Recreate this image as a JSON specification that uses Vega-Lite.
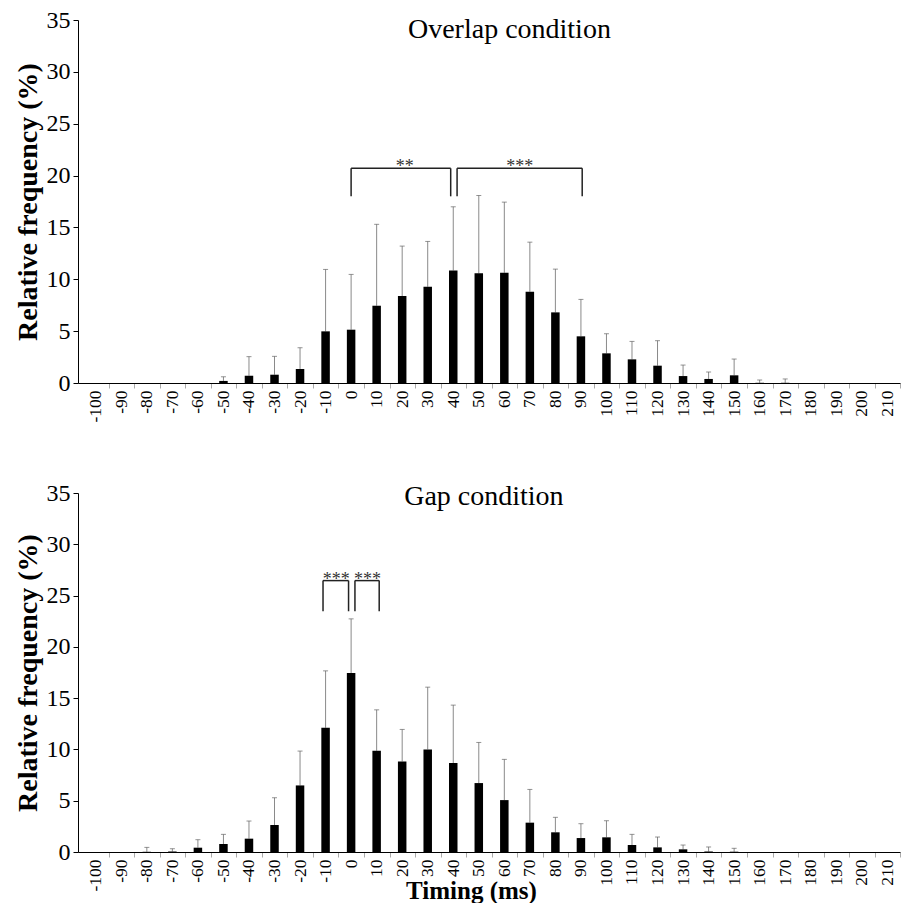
{
  "$schema": "https://vega.github.io/schema/vega-lite/v6.json",
  "background": "white",
  "padding": {"left": 14, "top": 8, "right": 0, "bottom": 0},
  "spacing": 58,
  "config": {
    "font": "Liberation Serif",
    "view": {"stroke": null},
    "axis": {"labelFont": "Liberation Serif", "titleFont": "Liberation Serif", "labelColor": "black", "titleColor": "black", "domainColor": "black", "grid": false},
    "axisX": {"tickCount": 40, "labelOverlap": false, "labelSeparation": 0, "labelExpr": "datum.value + ''", "labelAngle": -90, "labelFontSize": 17.5, "labelPadding": 2, "tickSize": 5, "tickColor": "#aaaaaa", "tickOffset": 12.9, "labelOffset": -12.9, "labelFlush": false, "labelBound": false},
    "axisY": {"labelFontSize": 24, "labelPadding": 3, "tickSize": 5, "tickColor": "black", "titleFontSize": 28, "titleFontWeight": "bold", "titlePadding": 4}
  },
  "datasets": {
    "freq": [
      {"cond": "Overlap", "t": -100, "v": 0, "e": 0},
      {"cond": "Overlap", "t": -90, "v": 0, "e": 0},
      {"cond": "Overlap", "t": -80, "v": 0, "e": 0},
      {"cond": "Overlap", "t": -70, "v": 0, "e": 0},
      {"cond": "Overlap", "t": -60, "v": 0, "e": 0},
      {"cond": "Overlap", "t": -50, "v": 0.2, "e": 0.6},
      {"cond": "Overlap", "t": -40, "v": 0.7, "e": 2.54},
      {"cond": "Overlap", "t": -30, "v": 0.8, "e": 2.57},
      {"cond": "Overlap", "t": -20, "v": 1.35, "e": 3.4},
      {"cond": "Overlap", "t": -10, "v": 4.98, "e": 10.95},
      {"cond": "Overlap", "t": 0, "v": 5.14, "e": 10.47},
      {"cond": "Overlap", "t": 10, "v": 7.45, "e": 15.3},
      {"cond": "Overlap", "t": 20, "v": 8.38, "e": 13.2},
      {"cond": "Overlap", "t": 30, "v": 9.28, "e": 13.65},
      {"cond": "Overlap", "t": 40, "v": 10.85, "e": 16.99},
      {"cond": "Overlap", "t": 50, "v": 10.57, "e": 18.08},
      {"cond": "Overlap", "t": 60, "v": 10.63, "e": 17.44},
      {"cond": "Overlap", "t": 70, "v": 8.8, "e": 13.58},
      {"cond": "Overlap", "t": 80, "v": 6.81, "e": 10.98},
      {"cond": "Overlap", "t": 90, "v": 4.5, "e": 8.06},
      {"cond": "Overlap", "t": 100, "v": 2.86, "e": 4.75},
      {"cond": "Overlap", "t": 110, "v": 2.28, "e": 4.01},
      {"cond": "Overlap", "t": 120, "v": 1.67, "e": 4.08},
      {"cond": "Overlap", "t": 130, "v": 0.67, "e": 1.73},
      {"cond": "Overlap", "t": 140, "v": 0.39, "e": 1.06},
      {"cond": "Overlap", "t": 150, "v": 0.74, "e": 2.31},
      {"cond": "Overlap", "t": 160, "v": 0.02, "e": 0.29},
      {"cond": "Overlap", "t": 170, "v": 0.02, "e": 0.39},
      {"cond": "Overlap", "t": 180, "v": 0, "e": 0},
      {"cond": "Overlap", "t": 190, "v": 0, "e": 0},
      {"cond": "Overlap", "t": 200, "v": 0, "e": 0},
      {"cond": "Overlap", "t": 210, "v": 0, "e": 0},
      {"cond": "Gap", "t": -100, "v": 0, "e": 0},
      {"cond": "Gap", "t": -90, "v": 0, "e": 0},
      {"cond": "Gap", "t": -80, "v": 0.02, "e": 0.45},
      {"cond": "Gap", "t": -70, "v": 0.05, "e": 0.32},
      {"cond": "Gap", "t": -60, "v": 0.42, "e": 1.2},
      {"cond": "Gap", "t": -50, "v": 0.78, "e": 1.72},
      {"cond": "Gap", "t": -40, "v": 1.3, "e": 3.02},
      {"cond": "Gap", "t": -30, "v": 2.63, "e": 5.29},
      {"cond": "Gap", "t": -20, "v": 6.49, "e": 9.84},
      {"cond": "Gap", "t": -10, "v": 12.11, "e": 17.66},
      {"cond": "Gap", "t": 0, "v": 17.44, "e": 22.73},
      {"cond": "Gap", "t": 10, "v": 9.87, "e": 13.86},
      {"cond": "Gap", "t": 20, "v": 8.83, "e": 11.95},
      {"cond": "Gap", "t": 30, "v": 10.0, "e": 16.07},
      {"cond": "Gap", "t": 40, "v": 8.67, "e": 14.32},
      {"cond": "Gap", "t": 50, "v": 6.72, "e": 10.68},
      {"cond": "Gap", "t": 60, "v": 5.06, "e": 9.03},
      {"cond": "Gap", "t": 70, "v": 2.86, "e": 6.1},
      {"cond": "Gap", "t": 80, "v": 1.92, "e": 3.38},
      {"cond": "Gap", "t": 90, "v": 1.36, "e": 2.76},
      {"cond": "Gap", "t": 100, "v": 1.43, "e": 3.05},
      {"cond": "Gap", "t": 110, "v": 0.68, "e": 1.72},
      {"cond": "Gap", "t": 120, "v": 0.45, "e": 1.46},
      {"cond": "Gap", "t": 130, "v": 0.26, "e": 0.68},
      {"cond": "Gap", "t": 140, "v": 0.05, "e": 0.49},
      {"cond": "Gap", "t": 150, "v": 0.03, "e": 0.36},
      {"cond": "Gap", "t": 160, "v": 0, "e": 0},
      {"cond": "Gap", "t": 170, "v": 0, "e": 0},
      {"cond": "Gap", "t": 180, "v": 0, "e": 0},
      {"cond": "Gap", "t": 190, "v": 0, "e": 0},
      {"cond": "Gap", "t": 200, "v": 0, "e": 0},
      {"cond": "Gap", "t": 210, "v": 0, "e": 0}
    ],
    "brackets": [
      {"cond": "Overlap", "x1": 0, "x2": 39, "xm": 21, "top": 20.7, "leg": 18.0, "stars": "**"},
      {"cond": "Overlap", "x1": 41.5, "x2": 90.5, "xm": 66, "top": 20.7, "leg": 18.0, "stars": "***"},
      {"cond": "Gap", "x1": -11, "x2": -1, "xm": -5.8, "top": 26.46, "leg": 23.47, "stars": "***"},
      {"cond": "Gap", "x1": 1.5, "x2": 11, "xm": 6.4, "top": 26.46, "leg": 23.47, "stars": "***"}
    ],
    "one": [{}]
  },
  "vconcat": [
    {
      "width": 822,
      "height": 363,
      "layer": [
        {
          "data": {"name": "freq"},
          "transform": [{"filter": "datum.cond === 'Overlap' && datum.e > 0"}],
          "mark": {"type": "rule", "color": "#8a8a8a", "strokeWidth": 1},
          "encoding": {
            "x": {"field": "t", "type": "quantitative", "scale": {"domain": [-105, 213], "nice": false, "zero": false},
              "axis": {"title": null, "values": [-100,-90,-80,-70,-60,-50,-40,-30,-20,-10,0,10,20,30,40,50,60,70,80,90,100,110,120,130,140,150,160,170,180,190,200,210]}},
            "y": {"field": "v", "type": "quantitative", "scale": {"domain": [0, 35], "nice": false}, "axis": {"title": "Relative frequency (%)", "values": [0,5,10,15,20,25,30,35]}},
            "y2": {"field": "e"}
          }
        },
        {
          "data": {"name": "freq"},
          "transform": [{"filter": "datum.cond === 'Overlap' && datum.e > 0"}],
          "mark": {"type": "tick", "orient": "horizontal", "size": 5, "thickness": 1, "color": "#666666"},
          "encoding": {
            "x": {"field": "t", "type": "quantitative"},
            "y": {"field": "e", "type": "quantitative"}
          }
        },
        {
          "data": {"name": "freq"},
          "transform": [{"filter": "datum.cond === 'Overlap'"}],
          "mark": {"type": "bar", "width": 8.5, "color": "black"},
          "encoding": {
            "x": {"field": "t", "type": "quantitative"},
            "y": {"field": "v", "type": "quantitative"}
          }
        },
        {
          "data": {"name": "brackets"},
          "transform": [{"filter": "datum.cond === 'Overlap'"}],
          "mark": {"type": "rule", "color": "#222222", "strokeWidth": 1.5},
          "encoding": {"x": {"field": "x1", "type": "quantitative"}, "x2": {"field": "x2"}, "y": {"field": "top", "type": "quantitative"}}
        },
        {
          "data": {"name": "brackets"},
          "transform": [{"filter": "datum.cond === 'Overlap'"}],
          "mark": {"type": "rule", "color": "#222222", "strokeWidth": 1.5},
          "encoding": {"x": {"field": "x1", "type": "quantitative"}, "y": {"field": "leg", "type": "quantitative"}, "y2": {"field": "top"}}
        },
        {
          "data": {"name": "brackets"},
          "transform": [{"filter": "datum.cond === 'Overlap'"}],
          "mark": {"type": "rule", "color": "#222222", "strokeWidth": 1.5},
          "encoding": {"x": {"field": "x2", "type": "quantitative"}, "y": {"field": "leg", "type": "quantitative"}, "y2": {"field": "top"}}
        },
        {
          "data": {"name": "brackets"},
          "transform": [{"filter": "datum.cond === 'Overlap'"}],
          "mark": {"type": "text", "font": "Liberation Serif", "fontSize": 18, "color": "#333333", "baseline": "alphabetic", "dy": 4},
          "encoding": {"x": {"field": "xm", "type": "quantitative"}, "y": {"field": "top", "type": "quantitative"}, "text": {"field": "stars"}}
        },
        {
          "data": {"name": "one"},
          "mark": {"type": "text", "text": "Overlap condition", "font": "Liberation Serif", "fontSize": 28, "color": "black", "baseline": "alphabetic", "align": "center"},
          "encoding": {"x": {"datum": 62}, "y": {"datum": 33.26}}
        }
      ]
    },
    {
      "width": 822,
      "height": 359,
      "layer": [
        {
          "data": {"name": "freq"},
          "transform": [{"filter": "datum.cond === 'Gap' && datum.e > 0"}],
          "mark": {"type": "rule", "color": "#8a8a8a", "strokeWidth": 1},
          "encoding": {
            "x": {"field": "t", "type": "quantitative", "scale": {"domain": [-105, 213], "nice": false, "zero": false},
              "axis": {"title": "Timing (ms)", "values": [-100,-90,-80,-70,-60,-50,-40,-30,-20,-10,0,10,20,30,40,50,60,70,80,90,100,110,120,130,140,150,160,170,180,190,200,210], "titleFontSize": 25, "titleFontWeight": "bold", "titleX": 393, "titleY": 46, "titleBaseline": "alphabetic", "titleAnchor": "middle"}},
            "y": {"field": "v", "type": "quantitative", "scale": {"domain": [0, 35], "nice": false}, "axis": {"title": "Relative frequency (%)", "values": [0,5,10,15,20,25,30,35]}},
            "y2": {"field": "e"}
          }
        },
        {
          "data": {"name": "freq"},
          "transform": [{"filter": "datum.cond === 'Gap' && datum.e > 0"}],
          "mark": {"type": "tick", "orient": "horizontal", "size": 5, "thickness": 1, "color": "#666666"},
          "encoding": {
            "x": {"field": "t", "type": "quantitative"},
            "y": {"field": "e", "type": "quantitative"}
          }
        },
        {
          "data": {"name": "freq"},
          "transform": [{"filter": "datum.cond === 'Gap'"}],
          "mark": {"type": "bar", "width": 8.5, "color": "black"},
          "encoding": {
            "x": {"field": "t", "type": "quantitative"},
            "y": {"field": "v", "type": "quantitative"}
          }
        },
        {
          "data": {"name": "brackets"},
          "transform": [{"filter": "datum.cond === 'Gap'"}],
          "mark": {"type": "rule", "color": "#222222", "strokeWidth": 1.5},
          "encoding": {"x": {"field": "x1", "type": "quantitative"}, "x2": {"field": "x2"}, "y": {"field": "top", "type": "quantitative"}}
        },
        {
          "data": {"name": "brackets"},
          "transform": [{"filter": "datum.cond === 'Gap'"}],
          "mark": {"type": "rule", "color": "#222222", "strokeWidth": 1.5},
          "encoding": {"x": {"field": "x1", "type": "quantitative"}, "y": {"field": "leg", "type": "quantitative"}, "y2": {"field": "top"}}
        },
        {
          "data": {"name": "brackets"},
          "transform": [{"filter": "datum.cond === 'Gap'"}],
          "mark": {"type": "rule", "color": "#222222", "strokeWidth": 1.5},
          "encoding": {"x": {"field": "x2", "type": "quantitative"}, "y": {"field": "leg", "type": "quantitative"}, "y2": {"field": "top"}}
        },
        {
          "data": {"name": "brackets"},
          "transform": [{"filter": "datum.cond === 'Gap'"}],
          "mark": {"type": "text", "font": "Liberation Serif", "fontSize": 18, "color": "#333333", "baseline": "alphabetic", "dy": 4},
          "encoding": {"x": {"field": "xm", "type": "quantitative"}, "y": {"field": "top", "type": "quantitative"}, "text": {"field": "stars"}}
        },
        {
          "data": {"name": "one"},
          "mark": {"type": "text", "text": "Gap condition", "font": "Liberation Serif", "fontSize": 28, "color": "black", "baseline": "alphabetic", "align": "center"},
          "encoding": {"x": {"datum": 52}, "y": {"datum": 33.83}}
        }
      ]
    }
  ]
}
